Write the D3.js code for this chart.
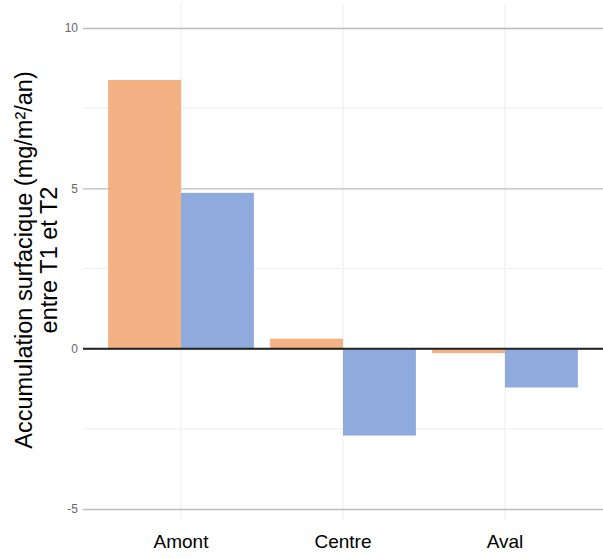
<!DOCTYPE html>
<html>
<head>
<meta charset="utf-8">
<script src="https://cdn.jsdelivr.net/npm/d3@7"></script>
<style>
  html, body { margin: 0; padding: 0; background: #fff; }
  svg { display: block; }
</style>
</head>
<body>
<svg id="chart" width="603" height="558"></svg>
<script>
// ---- Data ----
const categories = ["Amont", "Centre", "Aval"];
const seriesNames = ["T1", "T2"];
const seriesT1 = [8.38, 0.31, -0.14];
const seriesT2 = [4.86, -2.71, -1.21];
const majorTicks = [-5, 0, 5, 10];
const minorTicks = [-2.5, 2.5, 7.5];
const yLabelLines = ["Accumulation surfacique (mg/m²/an)", "entre T1 et T2"];
const colors = ["#F4B183", "#8FAADC"];

const svg = d3.select("#chart");
const plotLeft = 83, plotRight = 603;

const y = d3.scaleLinear().domain([-5, 10]).range([509, 28]);
const x = d3.scaleBand().domain(categories).range([100, 586])
  .paddingInner(0.1).paddingOuter(0.05);
const xs = d3.scaleBand().domain(seriesNames).range([0, x.bandwidth()]);

// vertical light gridlines at category centres
svg.append("g").selectAll("line").data(categories).join("line")
  .attr("x1", d => x(d) + x.bandwidth() / 2)
  .attr("x2", d => x(d) + x.bandwidth() / 2)
  .attr("y1", 4).attr("y2", 520)
  .attr("stroke", "#f0f0f0").attr("stroke-width", 1.2);

// minor gridlines
svg.append("g").selectAll("line").data(minorTicks).join("line")
  .attr("x1", plotLeft).attr("x2", plotRight)
  .attr("y1", d => y(d)).attr("y2", d => y(d))
  .attr("stroke", "#f0f0f0").attr("stroke-width", 1.2);

// major gridlines via axis
const yAxis = d3.axisLeft(y).tickValues(majorTicks).tickSize(-(plotRight - plotLeft)).tickPadding(5)
  .tickFormat(d => String(d));
const ga = svg.append("g").attr("transform", `translate(${plotLeft},0)`).call(yAxis);
ga.select(".domain").remove();
ga.selectAll(".tick line").attr("stroke", "#bdbdbd").attr("stroke-width", 1.3);
ga.selectAll(".tick text").attr("fill", "#666666").attr("font-family", "Liberation Sans, Arial, sans-serif")
  .attr("font-size", 12);

// bars
const data = [];
categories.forEach((c, i) => {
  data.push({cat: c, s: "T1", v: seriesT1[i]});
  data.push({cat: c, s: "T2", v: seriesT2[i]});
});
svg.append("g").selectAll("rect").data(data).join("rect")
  .attr("x", d => x(d.cat) + xs(d.s))
  .attr("width", xs.bandwidth())
  .attr("y", d => y(Math.max(0, d.v)))
  .attr("height", d => Math.abs(y(d.v) - y(0)))
  .attr("fill", d => colors[seriesNames.indexOf(d.s)]);

// zero line
svg.append("line")
  .attr("x1", plotLeft).attr("x2", plotRight)
  .attr("y1", y(0)).attr("y2", y(0))
  .attr("stroke", "#222").attr("stroke-width", 2);

// x axis labels
const xAxis = d3.axisBottom(x).tickSize(0).tickPadding(0);
const gx = svg.append("g").attr("transform", `translate(0,532)`).call(xAxis);
gx.select(".domain").remove();
gx.selectAll(".tick text").attr("fill", "#000").attr("font-family", "Liberation Sans, Arial, sans-serif")
  .attr("font-size", 19).attr("dy", "0.85em");

// y label
const yl = svg.append("text")
  .attr("transform", "translate(0,260) rotate(-90)")
  .attr("text-anchor", "middle")
  .attr("font-family", "Liberation Sans, Arial, sans-serif")
  .attr("font-size", 23.5).attr("fill", "#000");
yLabelLines.forEach((t, i) => {
  yl.append("tspan").attr("x", 0).attr("y", 32 + i * 25).text(t);
});
</script>
</body>
</html>
